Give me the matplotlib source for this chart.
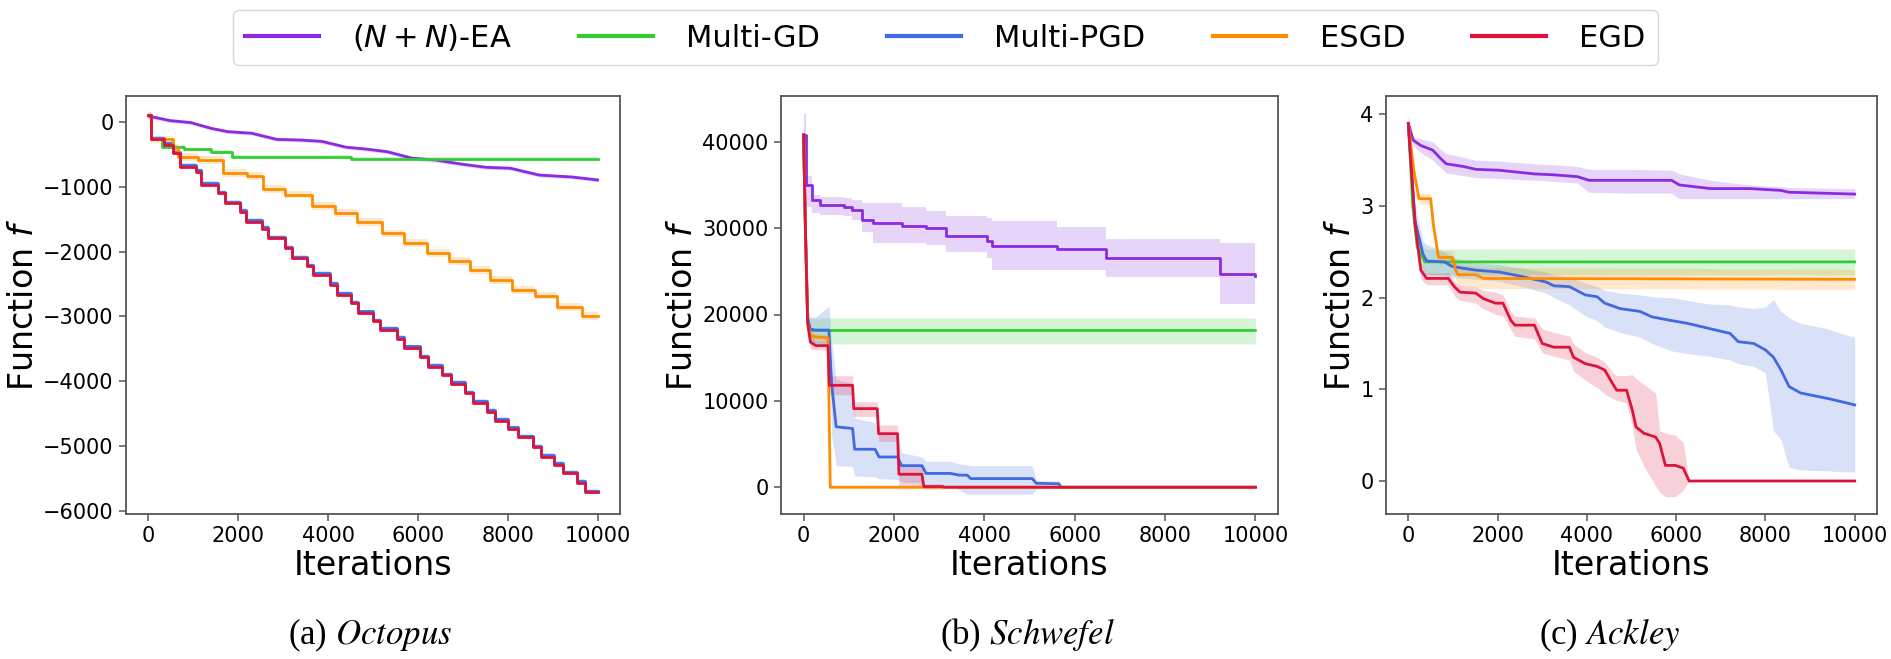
import matplotlib
matplotlib.use("Agg")
import matplotlib.pyplot as plt
import numpy as np

# ---------------- data ----------------
labels = ["$(N+N)$-EA", "Multi-GD", "Multi-PGD", "ESGD", "EGD"]
captions = ["(a) ", "(b) ", "(c) "]
caption_names = ["Octopus", "Schwefel", "Ackley"]

# Octopus
oct_x_ea = [0, 480, 940, 1400, 1760, 2300, 2860, 3400, 3860, 4400, 4860, 5320, 5870, 6410, 6960, 7510, 8060, 8700, 9430, 10000]
oct_y_ea = [90, 20, -10, -100, -150, -175, -270, -280, -300, -390, -420, -460, -560, -590, -650, -700, -715, -820, -850, -895]
oct_band_ea = 30

oct_x_gd = [0, 60, 300, 800, 1400, 1850, 4500, 10000]
oct_y_gd = [100, -270, -380, -420, -460, -535, -565, -565]
oct_band_gd = 25

oct_x_egd = [0, 60, 350, 550, 700, 1050, 1170, 1550, 1700, 2030, 2180, 2520, 2660, 3040, 3200, 3530, 3670, 4040, 4190, 4520,
             4670, 5000, 5160, 5540, 5700, 6050, 6220, 6540, 6740, 7050, 7230, 7540, 7720, 8010, 8220, 8570, 8730, 9020, 9230, 9550,
             9720, 10000]
oct_y_egd = [100, -270, -350, -480, -690, -770, -970, -1100, -1255, -1385, -1540, -1650, -1795, -1950, -2105, -2230, -2360, -2510, -2670, -2800,
             -2950, -3075, -3210, -3350, -3490, -3630, -3775, -3910, -4045, -4190, -4330, -4470, -4610, -4740, -4865, -5020, -5165, -5290, -5420, -5570,
             -5715, -5715]
oct_band_egd = 25
oct_y_pgd = [100, -250, -330, -460, -665, -745, -945, -1075, -1230, -1360, -1515, -1625, -1770, -1925, -2080, -2205, -2335, -2485, -2645, -2775,
             -2925, -3050, -3185, -3325, -3465, -3605, -3750, -3885, -4020, -4165, -4305, -4445, -4585, -4715, -4840, -4995, -5140, -5265, -5395, -5545,
             -5690, -5690]
oct_band_pgd = 30

oct_x_esgd = [0, 60, 550, 650, 1100, 1650, 2200, 2550, 3050, 3650, 4150, 4650, 5200, 5700, 6200, 6700, 7150, 7600, 8100, 8600, 9100, 9650, 10000]
oct_y_esgd = [100, -270, -400, -540, -590, -790, -830, -1040, -1120, -1300, -1400, -1550, -1720, -1870, -2025, -2150, -2285, -2440, -2590, -2680, -2850, -3000, -3000]
oct_band_esgd = 60

# Schwefel
sch_x_ea = [0, 50, 180, 360, 900, 1080, 1300, 1540, 2170, 2710, 3160, 4070, 4160, 5610, 6690, 9220, 10000]
sch_y_ea = [40800, 35000, 33300, 32700, 32500, 32150, 31000, 30600, 30300, 30000, 29100, 28500, 27900, 27600, 26500, 24700, 24500]
sch_lo_ea = [38500, 32500, 31800, 31500, 31400, 31000, 29500, 28300, 28300, 28000, 27200, 26500, 25200, 25200, 24300, 21200, 21200]
sch_hi_ea = [43200, 36000, 33800, 33600, 33500, 33300, 32900, 32900, 32400, 32000, 31400, 31200, 30800, 30100, 28700, 28300, 28300]

sch_x_gd = [0, 40, 90, 150, 10000]
sch_y_gd = [40800, 30000, 19500, 18150, 18150]
sch_lo_gd = [40000, 29000, 18000, 16600, 16600]
sch_hi_gd = [41500, 31000, 20500, 19600, 19600]

sch_x_pgd = [0, 40, 90, 150, 270, 560, 620, 720, 1085, 1130, 1580, 1670, 2080, 2170, 2620, 2710, 3250, 3440, 3620, 3700,
             5060, 5150, 5650, 5700, 10000]
sch_y_pgd = [40800, 30000, 19500, 18300, 18200, 18200, 12000, 7000, 6800, 4400, 4400, 3500, 3500, 2500, 2500, 1600, 1600, 1400, 1400, 1000,
             1000, 450, 400, 0, 0]
sch_lo_pgd = [40000, 29000, 18500, 16800, 16700, 16700, 6000, 2500, 2400, 1300, 1200, 1000, 900, 600, 500, 300, 200, -300, -800, -800,
              -800, -200, -100, 0, 0]
sch_hi_pgd = [43000, 31000, 20500, 19700, 19700, 21000, 17000, 12500, 12000, 8000, 7500, 6400, 6000, 4000, 3500, 3000, 3000, 2700, 2600, 2500,
              2500, 800, 700, 0, 0]

sch_x_esgd = [0, 40, 90, 150, 270, 540, 590, 10000]
sch_y_esgd = [40800, 30000, 19000, 17600, 17400, 17300, 0, 0]
sch_lo_esgd = [40500, 29500, 18500, 17100, 17000, 16900, -200, -100]
sch_hi_esgd = [41000, 30500, 19500, 18100, 17800, 17700, 200, 100]

sch_x_egd = [0, 40, 90, 150, 270, 540, 570, 1085, 1110, 1630, 1660, 2080, 2110, 2620, 2660, 3080, 3110, 10000]
sch_y_egd = [40800, 30000, 19000, 16800, 16400, 16400, 11800, 11800, 9100, 9100, 6200, 6200, 1500, 1500, 80, 80, 0, 0]
sch_lo_egd = [40000, 29000, 18000, 16000, 15900, 15900, 10700, 10700, 8200, 8200, 5300, 5300, 0, 0, -200, -200, 0, 0]
sch_hi_egd = [41500, 31000, 20000, 17500, 16900, 16900, 12900, 12900, 9900, 9900, 7200, 7200, 2500, 2500, 400, 400, 0, 0]

# Ackley
ack_x_ea = [0, 105, 280, 545, 720, 850, 1245, 1510, 2035, 2825, 3260, 3790, 4050, 5020, 5900, 6070, 6770, 7650, 8350, 8530, 10000]
ack_y_ea = [3.90, 3.72, 3.66, 3.61, 3.52, 3.46, 3.43, 3.40, 3.39, 3.35, 3.34, 3.32, 3.28, 3.28, 3.28, 3.23, 3.19, 3.19, 3.17, 3.15, 3.13]
ack_lo_ea = [3.85, 3.66, 3.58, 3.50, 3.42, 3.36, 3.33, 3.31, 3.30, 3.28, 3.27, 3.25, 3.15, 3.14, 3.14, 3.08, 3.08, 3.08, 3.08, 3.08, 3.08]
ack_hi_ea = [4.00, 3.76, 3.73, 3.70, 3.62, 3.57, 3.53, 3.50, 3.49, 3.46, 3.45, 3.43, 3.40, 3.40, 3.39, 3.35, 3.28, 3.23, 3.21, 3.20, 3.19]

ack_x_gd = [0, 100, 200, 370, 10000]
ack_y_gd = [3.90, 3.00, 2.55, 2.39, 2.39]
ack_lo_gd = [3.85, 2.85, 2.40, 2.25, 2.25]
ack_hi_gd = [3.95, 3.15, 2.70, 2.53, 2.53]

ack_x_pgd = [0, 150, 325, 410, 810, 983, 1510, 2035, 2560, 3090, 3260, 3610, 3965, 4230, 4400, 4750, 5190, 5460, 5900, 6250,
             6600, 6770, 7210, 7390, 7740, 8000, 8180, 8350, 8530, 8790, 9400, 9750, 10000]
ack_y_pgd = [3.90, 2.84, 2.48, 2.40, 2.39, 2.34, 2.30, 2.28, 2.23, 2.17, 2.13, 2.12, 2.03, 2.01, 1.94, 1.88, 1.85, 1.79, 1.75, 1.72,
             1.68, 1.66, 1.61, 1.52, 1.50, 1.43, 1.35, 1.21, 1.03, 0.96, 0.90, 0.86, 0.83]
ack_hi_pgd = [3.95, 3.00, 2.62, 2.58, 2.50, 2.44, 2.38, 2.36, 2.32, 2.28, 2.25, 2.22, 2.16, 2.12, 2.08, 2.05, 2.03, 2.01, 2.00, 1.97,
              1.94, 1.93, 1.92, 1.90, 1.88, 1.90, 1.98, 1.85, 1.78, 1.72, 1.66, 1.60, 1.57]
ack_lo_pgd = [3.85, 2.70, 2.36, 2.25, 2.25, 2.22, 2.20, 2.18, 2.12, 2.05, 2.00, 1.92, 1.80, 1.75, 1.68, 1.62, 1.57, 1.50, 1.42, 1.39,
              1.37, 1.36, 1.32, 1.28, 1.25, 1.18, 0.55, 0.45, 0.15, 0.12, 0.11, 0.10, 0.10]

ack_x_esgd = [0, 120, 237, 500, 560, 675, 983, 1060, 1115, 1510, 1680, 10000]
ack_y_esgd = [3.90, 3.40, 3.08, 3.08, 2.80, 2.44, 2.44, 2.30, 2.25, 2.25, 2.21, 2.20]
ack_lo_esgd = [3.85, 3.33, 3.02, 3.02, 2.72, 2.37, 2.37, 2.20, 2.15, 2.12, 2.10, 2.09]
ack_hi_esgd = [3.95, 3.47, 3.14, 3.14, 2.88, 2.51, 2.51, 2.40, 2.36, 2.34, 2.33, 2.31]

ack_x_egd = [0, 150, 280, 410, 895, 1030, 1160, 1510, 1680, 1950, 2120, 2300, 2390, 2825, 3000, 3260, 3610, 3700, 3965, 4230,
             4400, 4580, 4670, 4890, 5020, 5100, 5280, 5540, 5630, 5760, 5980, 6160, 6290, 10000]
ack_y_egd = [3.90, 2.81, 2.30, 2.21, 2.21, 2.12, 2.06, 2.05, 1.99, 1.94, 1.94, 1.75, 1.70, 1.70, 1.50, 1.46, 1.46, 1.35, 1.28, 1.25,
             1.21, 1.06, 0.99, 0.99, 0.77, 0.59, 0.52, 0.48, 0.41, 0.17, 0.17, 0.14, 0.0, 0.0]
ack_hi_egd = [3.95, 2.95, 2.40, 2.27, 2.27, 2.18, 2.14, 2.12, 2.08, 2.06, 2.03, 1.85, 1.80, 1.78, 1.66, 1.62, 1.58, 1.50, 1.40, 1.35,
              1.30, 1.18, 1.15, 1.15, 1.16, 1.12, 1.05, 0.96, 0.55, 0.52, 0.50, 0.42, 0.0, 0.0]
ack_lo_egd = [3.85, 2.67, 2.20, 2.14, 2.14, 2.02, 1.97, 1.94, 1.88, 1.82, 1.80, 1.65, 1.58, 1.55, 1.40, 1.36, 1.32, 1.20, 1.10, 1.02,
              0.95, 0.90, 0.88, 0.85, 0.59, 0.35, 0.16, -0.05, -0.12, -0.17, -0.17, -0.10, 0.0, 0.0]

xticks = [0, 2000, 4000, 6000, 8000, 10000]
oct_yticks = [0, -1000, -2000, -3000, -4000, -5000, -6000]
sch_yticks = [0, 10000, 20000, 30000, 40000]
ack_yticks = [0, 1, 2, 3, 4]

# ---------------- style ----------------
colors = ["#8A2BE2", "#32CD32", "#4169E1", "#FF8C00", "#DC143C"]
LW = 2.0
BAND_ALPHA = 0.2

fig = plt.figure(figsize=(18.91, 6.59), dpi=100)
plt.rcParams['font.family'] = ['DejaVu Sans']

ax_pos = [
    [126 / 1891, 1 - 514 / 659, 494 / 1891, 418 / 659],
    [781 / 1891, 1 - 514 / 659, 497 / 1891, 418 / 659],
    [1386 / 1891, 1 - 514 / 659, 491 / 1891, 418 / 659],
]
axes = [fig.add_axes(p) for p in ax_pos]


def style_axis(ax):
    for s in ax.spines.values():
        s.set_color("#555555")
        s.set_linewidth(1.3)
    ax.tick_params(axis="both", labelsize=15, length=5, width=1.1, color="#555555", pad=4)
    ax.set_xlabel("Iterations", fontsize=24, labelpad=2)
    ax.set_ylabel("Function $f$", fontsize=24, labelpad=2)
    ax.set_xticks(xticks)
    ax.set_xlim(-500, 10500)


# Octopus
ax = axes[0]
handles = []
x = np.array(oct_x_ea); y = np.array(oct_y_ea)
ax.fill_between(x, y - oct_band_ea, y + oct_band_ea, color=colors[0], alpha=BAND_ALPHA, lw=0)
h, = ax.plot(x, y, color=colors[0], lw=LW, label=labels[0]); handles.append(h)
x = np.array(oct_x_gd); y = np.array(oct_y_gd)
ax.fill_between(x, y - oct_band_gd, y + oct_band_gd, color=colors[1], alpha=BAND_ALPHA, lw=0, step="post")
h, = ax.plot(x, y, color=colors[1], lw=LW, drawstyle="steps-post", label=labels[1]); handles.append(h)
x = np.array(oct_x_egd); y = np.array(oct_y_pgd)
ax.fill_between(x, y - oct_band_pgd, y + oct_band_pgd, color=colors[2], alpha=BAND_ALPHA, lw=0, step="post")
h, = ax.plot(x, y, color=colors[2], lw=LW, drawstyle="steps-post", label=labels[2]); handles.append(h)
x = np.array(oct_x_esgd); y = np.array(oct_y_esgd)
ax.fill_between(x, y - oct_band_esgd, y + oct_band_esgd, color=colors[3], alpha=BAND_ALPHA, lw=0, step="post")
h, = ax.plot(x, y, color=colors[3], lw=LW, drawstyle="steps-post", label=labels[3]); handles.append(h)
x = np.array(oct_x_egd); y = np.array(oct_y_egd)
ax.fill_between(x, y - oct_band_egd, y + oct_band_egd, color=colors[4], alpha=BAND_ALPHA, lw=0, step="post")
h, = ax.plot(x, y, color=colors[4], lw=LW, drawstyle="steps-post", label=labels[4]); handles.append(h)
ax.set_yticks(oct_yticks)
ax.set_ylim(-6050, 400)
style_axis(ax)

# Schwefel
ax = axes[1]
series = [
    (sch_x_ea, sch_y_ea, sch_lo_ea, sch_hi_ea, "steps-post"),
    (sch_x_gd, sch_y_gd, sch_lo_gd, sch_hi_gd, "default"),
    (sch_x_pgd, sch_y_pgd, sch_lo_pgd, sch_hi_pgd, "default"),
    (sch_x_esgd, sch_y_esgd, sch_lo_esgd, sch_hi_esgd, "default"),
    (sch_x_egd, sch_y_egd, sch_lo_egd, sch_hi_egd, "default"),
]
for i, (xs, ys, lo, hi, ds) in enumerate(series):
    step = "post" if ds == "steps-post" else None
    ax.fill_between(xs, lo, hi, color=colors[i], alpha=BAND_ALPHA, lw=0, step=step)
    ax.plot(xs, ys, color=colors[i], lw=LW, drawstyle=ds)
ax.set_yticks(sch_yticks)
ax.set_ylim(-3100, 45300)
style_axis(ax)

# Ackley
ax = axes[2]
series = [
    (ack_x_ea, ack_y_ea, ack_lo_ea, ack_hi_ea),
    (ack_x_gd, ack_y_gd, ack_lo_gd, ack_hi_gd),
    (ack_x_pgd, ack_y_pgd, ack_lo_pgd, ack_hi_pgd),
    (ack_x_esgd, ack_y_esgd, ack_lo_esgd, ack_hi_esgd),
    (ack_x_egd, ack_y_egd, ack_lo_egd, ack_hi_egd),
]
for i, (xs, ys, lo, hi) in enumerate(series):
    ax.fill_between(xs, lo, hi, color=colors[i], alpha=BAND_ALPHA, lw=0)
    ax.plot(xs, ys, color=colors[i], lw=LW)
ax.set_yticks(ack_yticks)
ax.set_ylim(-0.36, 4.2)
style_axis(ax)

# Legend
leg = fig.legend(handles, labels, loc="center", bbox_to_anchor=(0.500, 0.943), ncol=5,
                 fontsize=22, handlelength=2.4, handletextpad=1.1, columnspacing=2.2,
                 frameon=True, fancybox=True, edgecolor="#cccccc", borderpad=0.4)
for l in leg.get_lines():
    l.set_linewidth(3)

# Captions
cap_x = [370 / 1891, 1027 / 1891, 1610 / 1891]
for cx, pre, name in zip(cap_x, captions, caption_names):
    fig.text(cx, 0.036, pre + r"$\it{" + name + "}$", ha="center", va="center", fontsize=25,
             family="Liberation Serif", math_fontfamily="stix")

fig.savefig("out.png", dpi=100)
